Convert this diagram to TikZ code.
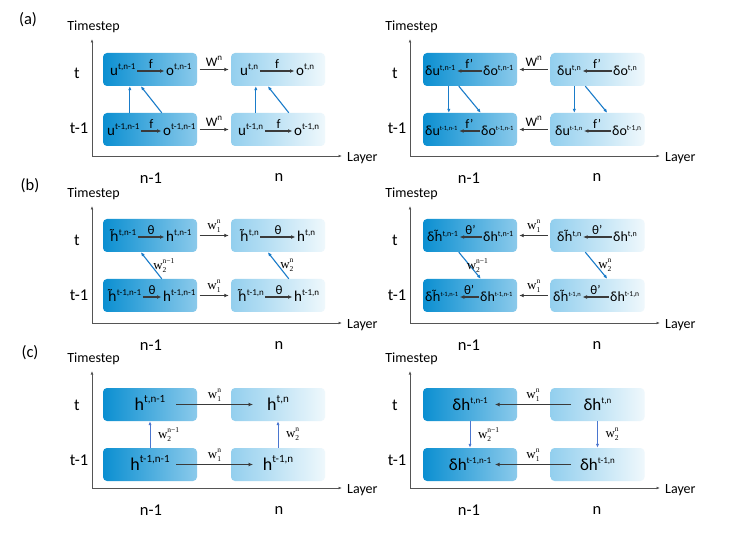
\documentclass[tikz,border=0pt]{standalone}
\usepackage{fontspec}
\setmainfont{Carlito}
\newfontfamily\mathish{Liberation Serif}
\newfontfamily\djv[Scale=0.9]{DejaVu Sans}
\usetikzlibrary{arrows.meta}
\definecolor{dk}{HTML}{0B8FD1}
\definecolor{md}{HTML}{8BCAEB}
\definecolor{lm}{HTML}{93CFEE}
\definecolor{pl}{HTML}{EFF8FC}
\definecolor{ar}{HTML}{3A3A3A}
\definecolor{bl}{HTML}{1A7CC9}
\definecolor{bc}{HTML}{4A76CF}
\definecolor{ax}{HTML}{555555}
\newcommand\sx[2]{\raisebox{0.42em}{\fontsize{#1}{#1}\selectfont #2}}
\newcommand\htil{{\djv h̃}}
\newcommand\wl[2]{{\mathish w\raisebox{-2.6pt}{\fontsize{7.5}{7.5}\selectfont\vbox{\baselineskip=8.6pt\lineskiplimit=-20pt\lineskip=0pt\hbox{#2}\hbox{#1}}}}}
\tikzset{
  boxL/.style={rounded corners=4pt, minimum width=94pt, minimum height=33pt, inner sep=0pt, left color=dk, right color=md, draw=none},
  boxR/.style={rounded corners=4pt, minimum width=94pt, minimum height=33pt, inner sep=0pt, left color=lm, right color=pl, draw=none},
  txl/.style={font=\fontsize{15}{17}\selectfont, inner sep=0pt, anchor=base west, text height=10pt, text depth=0pt},
  txr/.style={font=\fontsize{14}{16}\selectfont, inner sep=0pt, anchor=base west, text height=10pt, text depth=0pt},
  tcl/.style={font=\fontsize{18}{20}\selectfont, inner sep=0pt, anchor=center, text height=12pt, text depth=0pt},
  tcr/.style={font=\fontsize{17}{19}\selectfont, inner sep=0pt, anchor=center, text height=12pt, text depth=0pt},
  inarr/.style={draw=ar, line width=1.4pt, -{Latex[length=4.5pt,width=3.8pt]}, shorten <=1.5pt, shorten >=1.5pt},
  midarr/.style={draw=ar, line width=1.4pt, -{Latex[length=4.5pt,width=3.8pt]}, shorten <=2.5pt, shorten >=2pt},
  carr/.style={draw=ar, line width=1.7pt, -{Latex[length=4.5pt,width=4pt]}},
  barr/.style={draw=bl, line width=1.1pt, -{Latex[length=4pt,width=3.4pt]}},
  cbarr/.style={draw=bc, line width=1pt, -{Latex[length=4pt,width=3.2pt]}},
  axisln/.style={draw=ax, line width=0.8pt, {Latex[length=3.5pt,width=2.8pt]}-{Latex[length=3.5pt,width=2.8pt]}},
  flab/.style={above=1pt, inner sep=0.5pt, font=\fontsize{13}{15}\selectfont},
  wlab/.style={above=2pt, inner sep=0.5pt, font=\fontsize{13}{15}\selectfont},
  w2lab/.style={anchor=west, inner sep=0.5pt, font=\fontsize{13}{15}\selectfont},
  lab14/.style={font=\fontsize{14}{16}\selectfont, inner sep=0pt},
  lab17/.style={font=\fontsize{16.5}{19}\selectfont, inner sep=0pt},
}
\newcommand\axes[3]{%
  \coordinate (#1o) at (#2,#3);
  \coordinate (#1y) at (#2,#3-117);
  \coordinate (#1x) at (#2+250,#3);
  \draw[axisln] (#1y) -- (#1o) -- (#1x);
  \node[lab14] (#1ts) at (#2+1.5,#3-129) {Timestep};
  \node[lab14, anchor=west] (#1ly) at (#2+255,#3+2) {Layer};
  \node[lab17] (#1t) at (#2-15,#3-83) {t};
  \node[lab17] (#1tm) at (#2-13,#3-28) {t-1};
  \node[lab17] (#1nm) at (#2+59,#3+22) {n-1};
  \node[lab17] (#1n) at (#2+187,#3+22) {n};
}
\begin{document}
\begin{tikzpicture}[x=1pt,y=-1pt]
\fill[white] (0,0) rectangle (731,537);
\useasboundingbox (0,0) rectangle (731,537);

% panel labels
\node[lab17] (pa) at (28,20) {(a)};
\node[lab17] (pb) at (30,186) {(b)};
\node[lab17] (pc) at (30,353) {(c)};

% ================= (a) =================
\axes{aL}{92}{156}
\axes{aR}{410}{156}
\node[boxL] (aA1) at (150,69.5) {};
\node[boxR] (aA2) at (278,69.5) {};
\node[boxL] (aB1) at (150,129.5) {};
\node[boxR] (aB2) at (278,129.5) {};
\node[txl] (aU1) at (110,76) {u\sx{9}{t,n-1}};
\node[txl] (aO1) at (166,76) {o\sx{9}{t,n-1}};
\node[txl] (aU2) at (240,76) {u\sx{9}{t,n}};
\node[txl] (aO2) at (296,76) {o\sx{9}{t,n}};
\node[txl] (aV1) at (107,136) {u\sx{9}{t-1,n-1}};
\node[txl] (aP1) at (163,136) {o\sx{9}{t-1,n-1}};
\node[txl] (aV2) at (238,136) {u\sx{9}{t-1,n}};
\node[txl] (aP2) at (294,136) {o\sx{9}{t-1,n}};
\draw[inarr] (aU1) -- node[flab]{f} (aO1);
\draw[inarr] (aU2) -- node[flab]{f} (aO2);
\draw[inarr] (aV1) -- node[flab]{f} (aP1);
\draw[inarr] (aV2) -- node[flab]{f} (aP2);
\draw[midarr] (aA1) -- node[wlab]{W\sx{9}{n}} (aA2);
\draw[midarr] (aB1) -- node[wlab]{W\sx{9}{n}} (aB2);
\draw[barr] ([xshift=27pt]aB1.north west) -- ([xshift=27pt]aA1.south west);
\draw[barr] ([xshift=59pt]aB1.north west) -- ([xshift=38pt]aA1.south west);
\draw[barr] ([xshift=25pt]aB2.north west) -- ([xshift=25pt]aA2.south west);
\draw[barr] ([xshift=58pt]aB2.north west) -- ([xshift=37pt]aA2.south west);

\node[boxL] (aC1) at (470,69.5) {};
\node[boxR] (aC2) at (597.5,69.5) {};
\node[boxL] (aD1) at (470,129.5) {};
\node[boxR] (aD2) at (597.5,129.5) {};
\node[txr] (aDU1) at (425,76) {δu\sx{8}{t,n-1}};
\node[txr] (aDO1) at (483,76) {δo\sx{8}{t,n-1}};
\node[txr] (aDU2) at (557,76) {δu\sx{8}{t,n}};
\node[txr] (aDO2) at (613,76) {δo\sx{8}{t,n}};
\node[txr] (aEU1) at (425,136) {δu\sx{6.5}{t-1,n-1}};
\node[txr] (aEO1) at (481,136) {δo\sx{6.5}{t-1,n-1}};
\node[txr] (aEU2) at (555,136) {δu\sx{6.5}{t-1,n}};
\node[txr] (aEO2) at (612,136) {δo\sx{7.5}{t-1,n}};
\draw[inarr] (aDO1) -- node[flab]{f’} (aDU1);
\draw[inarr] (aDO2) -- node[flab]{f’} (aDU2);
\draw[inarr] (aEO1) -- node[flab]{f’} (aEU1);
\draw[inarr] (aEO2) -- node[flab]{f’} (aEU2);
\draw[midarr] (aC2) -- node[wlab]{W\sx{9}{n}} (aC1);
\draw[midarr] (aD2) -- node[wlab]{W\sx{9}{n}} (aD1);
\draw[barr] ([xshift=26pt]aC1.south west) -- ([xshift=26pt]aD1.north west);
\draw[barr] ([xshift=36pt]aC1.south west) -- ([xshift=58pt]aD1.north west);
\draw[barr] ([xshift=24pt]aC2.south west) -- ([xshift=24pt]aD2.north west);
\draw[barr] ([xshift=35pt]aC2.south west) -- ([xshift=57pt]aD2.north west);

% ================= (b) =================
\axes{bL}{92}{323}
\axes{bR}{410}{323}
\node[boxL] (bA1) at (150,235.5) {};
\node[boxR] (bA2) at (278,235.5) {};
\node[boxL] (bB1) at (150,295.5) {};
\node[boxR] (bB2) at (278,295.5) {};
\node[txl] (bU1) at (110,242) {\htil\sx{9}{t,n-1}};
\node[txl] (bO1) at (166,242) {h\sx{9}{t,n-1}};
\node[txl] (bU2) at (240,242) {\htil\sx{9}{t,n}};
\node[txl] (bO2) at (297,242) {h\sx{9}{t,n}};
\node[txl] (bV1) at (108,302) {\htil\sx{9}{t-1,n-1}};
\node[txl] (bP1) at (163,302) {h\sx{9}{t-1,n-1}};
\node[txl] (bV2) at (238,302) {\htil\sx{9}{t-1,n}};
\node[txl] (bP2) at (294,302) {h\sx{9}{t-1,n}};
\draw[inarr] (bU1) -- node[flab]{θ} (bO1);
\draw[inarr] (bU2) -- node[flab]{θ} (bO2);
\draw[inarr] (bV1) -- node[flab]{θ} (bP1);
\draw[inarr] (bV2) -- node[flab]{θ} (bP2);
\draw[midarr] (bA1) -- node[wlab]{\wl{1}{n}} (bA2);
\draw[midarr] (bB1) -- node[wlab]{\wl{1}{n}} (bB2);
\draw[barr] ([xshift=59pt]bB1.north west) -- node[w2lab, xshift=1pt]{\wl{2}{n−1}} ([xshift=38pt]bA1.south west);
\draw[barr] ([xshift=58pt]bB2.north west) -- node[w2lab, xshift=1pt]{\wl{2}{n}} ([xshift=37pt]bA2.south west);

\node[boxL] (bC1) at (470,235.5) {};
\node[boxR] (bC2) at (597.5,235.5) {};
\node[boxL] (bD1) at (470,295.5) {};
\node[boxR] (bD2) at (597.5,295.5) {};
\node[txr] (bDU1) at (427,242) {δ\htil\sx{8}{t,n-1}};
\node[txr] (bDO1) at (483,242) {δh\sx{8}{t,n-1}};
\node[txr] (bDU2) at (557,242) {δ\htil\sx{8}{t,n}};
\node[txr] (bDO2) at (613,242) {δh\sx{8}{t,n}};
\node[txr] (bEU1) at (425,302) {δ\htil\sx{6.5}{t-1,n-1}};
\node[txr] (bEO1) at (480,302) {δh\sx{6.5}{t-1,n-1}};
\node[txr] (bEU2) at (553,302) {δ\htil\sx{6.5}{t-1,n}};
\node[txr] (bEO2) at (610,302) {δh\sx{7.5}{t-1,n}};
\draw[inarr] (bDO1) -- node[flab]{θ’} (bDU1);
\draw[inarr] (bDO2) -- node[flab]{θ’} (bDU2);
\draw[inarr] (bEO1) -- node[flab]{θ’} (bEU1);
\draw[inarr] (bEO2) -- node[flab]{θ’} (bEU2);
\draw[midarr] (bC2) -- node[wlab]{\wl{1}{n}} (bC1);
\draw[midarr] (bD2) -- node[wlab]{\wl{1}{n}} (bD1);
\draw[barr] ([xshift=36pt]bC1.south west) -- node[w2lab, xshift=-4pt]{\wl{2}{n−1}} ([xshift=58pt]bD1.north west);
\draw[barr] ([xshift=35pt]bC2.south west) -- node[w2lab, xshift=1pt]{\wl{2}{n}} ([xshift=57pt]bD2.north west);

% ================= (c) =================
\axes{cL}{92}{488}
\axes{cR}{410}{488}
\node[boxL] (cA1) at (150,404.5) {};
\node[boxR] (cA2) at (278,404.5) {};
\node[boxL] (cB1) at (150,464.5) {};
\node[boxR] (cB2) at (278,464.5) {};
\node[tcl] (cH1) at (cA1.center) {h\sx{11}{t,n-1}};
\node[tcl] (cH2) at (cA2.center) {h\sx{11}{t,n}};
\node[tcl] (cH3) at (cB1.center) {h\sx{11}{t-1,n-1}};
\node[tcl] (cH4) at (cB2.center) {h\sx{11}{t-1,n}};
\draw[carr] ([xshift=26pt]cA1.center) -- node[wlab]{\wl{1}{n}} ([xshift=-25pt]cA2.center);
\draw[carr] ([xshift=26pt]cB1.center) -- node[wlab]{\wl{1}{n}} ([xshift=-25pt]cB2.center);
\draw[cbarr] (cB1.north) -- node[w2lab, xshift=7pt]{\wl{2}{n−1}} (cA1.south);
\draw[cbarr] (cB2.north) -- node[w2lab, xshift=7pt]{\wl{2}{n}} (cA2.south);

\node[boxL] (cC1) at (470,404.5) {};
\node[boxR] (cC2) at (597.5,404.5) {};
\node[boxL] (cD1) at (470,464.5) {};
\node[boxR] (cD2) at (597.5,464.5) {};
\node[tcr] (cK1) at (cC1.center) {δh\sx{9}{t,n-1}};
\node[tcr] (cK2) at (cC2.center) {δh\sx{9}{t,n}};
\node[tcr] (cK3) at (cD1.center) {δh\sx{9}{t-1,n-1}};
\node[tcr] (cK4) at (cD2.center) {δh\sx{9}{t-1,n}};
\draw[carr] ([xshift=-26.5pt]cC2.center) -- node[wlab]{\wl{1}{n}} ([xshift=25pt]cC1.center);
\draw[carr] ([xshift=-26.5pt]cD2.center) -- node[wlab]{\wl{1}{n}} ([xshift=25pt]cD1.center);
\draw[cbarr] (cC1.south) -- node[w2lab, xshift=7pt]{\wl{2}{n−1}} (cD1.north);
\draw[cbarr] (cC2.south) -- node[w2lab, xshift=7pt]{\wl{2}{n}} (cD2.north);
\end{tikzpicture}
\end{document}
